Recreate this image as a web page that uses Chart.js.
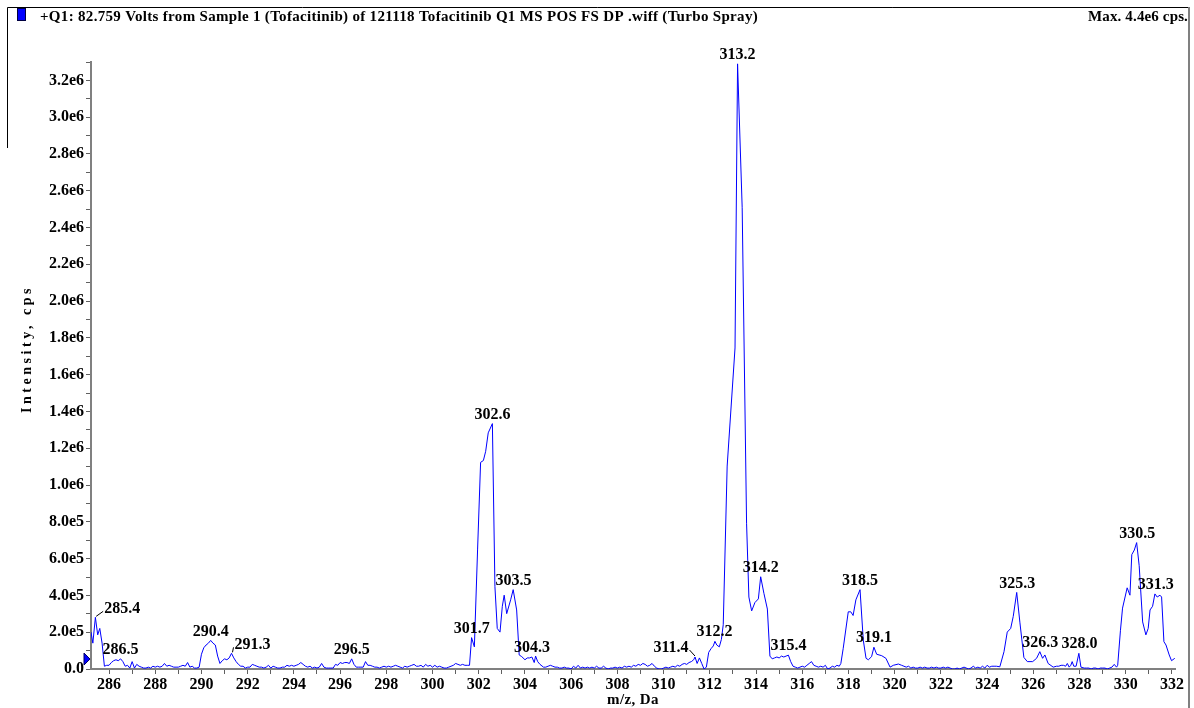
<!DOCTYPE html>
<html>
<head>
<meta charset="utf-8">
<title>Tofacitinib Q1 MS</title>
<script src="https://cdn.jsdelivr.net/npm/chart.js@4.4.1/dist/chart.umd.min.js"></script>
<style>
  html, body { margin: 0; padding: 0; background: #fff; }
  canvas { display: block; }
</style>
</head>
<body>
<canvas id="spectrum" width="1194" height="708"></canvas>
<script>
// intensities below are in units of 1e5 cps
const SCALE = 1e5;

const mzValues = [
  285.22, 285.30, 285.41, 285.51, 285.60, 285.70, 285.80, 285.90,
  286.0, 286.1, 286.2, 286.3, 286.4, 286.5, 286.6, 286.7, 286.8, 286.9,
  287.0, 287.1, 287.2, 287.3, 287.4, 287.5, 287.6, 287.7, 287.8, 287.9,
  288.0, 288.1, 288.2, 288.3, 288.4, 288.5, 288.6, 288.7, 288.8, 288.9,
  289.0, 289.1, 289.2, 289.3, 289.4, 289.5, 289.6, 289.7, 289.8, 289.9,
  290.0, 290.1, 290.2, 290.3, 290.4, 290.5, 290.6, 290.7, 290.8, 290.9,
  291.0, 291.1, 291.2, 291.3, 291.4, 291.5, 291.6, 291.7, 291.8, 291.9,
  292.0, 292.1, 292.2, 292.3, 292.4, 292.5, 292.6, 292.7, 292.8, 292.9,
  293.0, 293.1, 293.2, 293.3, 293.4, 293.5, 293.6, 293.7, 293.8, 293.9,
  294.0, 294.1, 294.2, 294.3, 294.4, 294.5, 294.6, 294.7, 294.8, 294.9,
  295.0, 295.1, 295.2, 295.3, 295.4, 295.5, 295.6, 295.7, 295.8, 295.9,
  296.0, 296.1, 296.2, 296.3, 296.4, 296.5, 296.6, 296.7, 296.8, 296.9,
  297.0, 297.1, 297.2, 297.3, 297.4, 297.5, 297.6, 297.7, 297.8, 297.9,
  298.0, 298.1, 298.2, 298.3, 298.4, 298.5, 298.6, 298.7, 298.8, 298.9,
  299.0, 299.1, 299.2, 299.3, 299.4, 299.5, 299.6, 299.7, 299.8, 299.9,
  300.0, 300.1, 300.2, 300.3, 300.4, 300.5, 300.6, 300.7, 300.8, 300.9,
  301.0, 301.1, 301.2, 301.3, 301.4, 301.5, 301.6, 301.69, 301.81, 301.95,
  302.08, 302.2, 302.3, 302.41, 302.59, 302.7, 302.8, 302.92,
  303.02, 303.1, 303.21, 303.38, 303.49, 303.64, 303.75, 303.86,
  304.0, 304.1, 304.2, 304.3, 304.4, 304.46, 304.55, 304.65, 304.8, 304.9,
  305.0, 305.1, 305.2, 305.3, 305.4, 305.5, 305.6, 305.7, 305.8, 305.9,
  306.0, 306.1, 306.2, 306.3, 306.4, 306.5, 306.6, 306.7, 306.8, 306.9,
  307.0, 307.1, 307.2, 307.3, 307.4, 307.5, 307.6, 307.7, 307.8, 307.9,
  308.0, 308.1, 308.2, 308.3, 308.4, 308.5, 308.6, 308.7, 308.8, 308.9,
  309.0, 309.1, 309.2, 309.3, 309.4, 309.5, 309.6, 309.7, 309.8, 309.9,
  310.0, 310.1, 310.2, 310.3, 310.4, 310.5, 310.6, 310.7, 310.8, 310.9,
  311.0, 311.1, 311.2, 311.3, 311.36, 311.45, 311.55, 311.65, 311.75, 311.85, 311.95,
  312.05, 312.15, 312.22, 312.3, 312.41, 312.5, 312.58, 312.75,
  313.09, 313.2, 313.4, 313.59, 313.69, 313.81, 313.95,
  314.1, 314.2, 314.34, 314.49, 314.6, 314.7, 314.8, 314.9,
  315.0, 315.1, 315.2, 315.3, 315.4, 315.5, 315.6, 315.7, 315.8, 315.9,
  316.0, 316.1, 316.2, 316.3, 316.4, 316.5, 316.6, 316.7, 316.8, 316.9,
  317.0, 317.1, 317.2, 317.3, 317.4, 317.5, 317.6, 317.67, 317.77, 317.99,
  318.1, 318.2, 318.32, 318.5, 318.64, 318.76, 318.86,
  319.0, 319.1, 319.22, 319.44, 319.62, 319.8, 319.94,
  320.16, 320.3, 320.4, 320.5, 320.6, 320.7, 320.8, 320.9,
  321.0, 321.1, 321.2, 321.3, 321.4, 321.5, 321.6, 321.7, 321.8, 321.9,
  322.0, 322.1, 322.2, 322.3, 322.4, 322.5, 322.6, 322.7, 322.8, 322.9,
  323.0, 323.1, 323.2, 323.3, 323.4, 323.5, 323.6, 323.7, 323.8, 323.9,
  324.0, 324.1, 324.2, 324.3, 324.4, 324.55, 324.73, 324.87,
  325.02, 325.13, 325.28, 325.42, 325.59, 325.74, 325.97,
  326.14, 326.28, 326.4, 326.5, 326.64, 326.86,
  327.0, 327.1, 327.2, 327.3, 327.4, 327.47, 327.55, 327.62, 327.68, 327.75, 327.85, 327.97,
  328.06, 328.2, 328.3, 328.4, 328.5, 328.6, 328.7, 328.8, 328.9,
  329.0, 329.1, 329.2, 329.3, 329.4, 329.5, 329.6, 329.65, 329.77, 329.86,
  330.06, 330.18, 330.26, 330.37, 330.47, 330.58, 330.73, 330.87, 330.97,
  331.05, 331.16, 331.26, 331.36, 331.48, 331.55, 331.65, 331.74, 331.88, 331.98,
  332.12
];

const intensityValues = [
  2.0, 1.4, 2.8, 1.85, 2.2, 1.4, 0.15, 0.2,
  0.2, 0.35, 0.45, 0.5, 0.45, 0.55, 0.4, 0.15, 0.2, 0.05,
  0.4, 0.05, 0.25, 0.15, 0.1, 0.05, 0.05, 0.1, 0.05, 0.15,
  0.1, 0.15, 0.1, 0.15, 0.3, 0.15, 0.2, 0.15, 0.1, 0.1,
  0.1, 0.15, 0.2, 0.15, 0.35, 0.1, 0.15, 0.05, 0.05, 0.1,
  0.8, 1.15, 1.3, 1.4, 1.55, 1.4, 1.3, 0.7, 0.3, 0.45,
  0.55, 0.5, 0.6, 0.85, 0.6, 0.4, 0.25, 0.15, 0.15, 0.05,
  0.1, 0.1, 0.25, 0.2, 0.15, 0.1, 0.1, 0.05, 0.1, 0.2,
  0.05, 0.15, 0.1, 0.05, 0.05, 0.1, 0.1, 0.2, 0.15, 0.2,
  0.15, 0.2, 0.25, 0.35, 0.25, 0.15, 0.1, 0.15, 0.05, 0.1,
  0.05, 0.1, 0.3, 0.1, 0.05, 0.05, 0.05, 0.05, 0.25, 0.2,
  0.35, 0.3, 0.35, 0.35, 0.3, 0.55, 0.25, 0.1, 0.1, 0.1,
  0.1, 0.4, 0.2, 0.2, 0.15, 0.1, 0.1, 0.05, 0.1, 0.15,
  0.1, 0.15, 0.1, 0.15, 0.2, 0.15, 0.1, 0.05, 0.15, 0.1,
  0.15, 0.2, 0.25, 0.15, 0.15, 0.2, 0.1, 0.25, 0.15, 0.2,
  0.1, 0.2, 0.1, 0.15, 0.1, 0.05, 0.05, 0.1, 0.15, 0.2,
  0.3, 0.25, 0.2, 0.25, 0.2, 0.2, 0.2, 1.7, 1.2, 6.5,
  11.2, 11.3, 11.8, 12.8, 13.3, 4.46, 2.2, 2.0,
  3.4, 4.0, 3.0, 3.75, 4.3, 3.2, 0.76, 0.67,
  0.5, 0.6, 0.6, 0.65, 0.35, 0.7, 0.4, 0.25, 0.1, 0.1,
  0.15, 0.2, 0.15, 0.1, 0.1, 0.05, 0.05, 0.1, 0.05, 0.05,
  0.0, 0.15, 0.05, 0.2, 0.05, 0.1, 0.05, 0.1, 0.05, 0.1,
  0.05, 0.15, 0.05, 0.05, 0.15, 0.05, 0.0, 0.05, 0.05, 0.1,
  0.05, 0.1, 0.05, 0.15, 0.1, 0.15, 0.1, 0.2, 0.15, 0.25,
  0.2, 0.3, 0.25, 0.15, 0.2, 0.3, 0.15, 0.05, 0.0, 0.0,
  0.05, 0.1, 0.05, 0.1, 0.15, 0.1, 0.2, 0.15, 0.25, 0.3,
  0.25, 0.35, 0.4, 0.5, 0.65, 0.3, 0.6, 0.3, 0.0, 0.1, 0.9,
  1.1, 1.25, 1.5, 1.3, 1.2, 1.6, 2.4, 11.0,
  17.4, 32.8, 25.0, 7.9, 3.9, 3.15, 3.6,
  3.8, 5.0, 4.1, 3.25, 0.7, 0.55, 0.6, 0.65,
  0.6, 0.7, 0.65, 0.7, 0.75, 0.4, 0.15, 0.1, 0.05, 0.1,
  0.15, 0.1, 0.2, 0.3, 0.4, 0.2, 0.15, 0.1, 0.15, 0.1,
  0.2, 0.0, 0.05, 0.15, 0.1, 0.2, 0.15, 0.3, 1.1, 3.1,
  3.1, 2.9, 3.75, 4.3, 1.57, 0.58, 0.5,
  0.67, 1.18, 0.8, 0.72, 0.58, 0.1, 0.2,
  0.27, 0.2, 0.15, 0.1, 0.15, 0.05, 0.1, 0.05,
  0.05, 0.1, 0.05, 0.1, 0.05, 0.05, 0.1, 0.05, 0.1, 0.05,
  0.05, 0.1, 0.05, 0.1, 0.05, 0.0, 0.0, 0.05, 0.0, 0.05,
  0.1, 0.05, 0.0, 0.05, 0.15, 0.05, 0.1, 0.05, 0.15, 0.05,
  0.2, 0.1, 0.15, 0.15, 0.15, 0.12, 0.94, 2.0,
  2.2, 2.85, 4.15, 2.5, 0.63, 0.4, 0.4,
  0.58, 0.94, 0.58, 0.76, 0.3, 0.1,
  0.15, 0.15, 0.2, 0.2, 0.15, 0.3, 0.1, 0.2, 0.4, 0.15, 0.15, 0.85,
  0.1, 0.05, 0.05, 0.05, 0.0, 0.05, 0.05, 0.0, 0.05,
  0.05, 0.05, 0.0, 0.05, 0.1, 0.25, 0.1, 0.2, 2.1, 3.3,
  4.4, 4.0, 6.2, 6.45, 6.85, 5.6, 2.55, 1.85, 2.2,
  3.2, 3.4, 4.07, 3.9, 4.0, 3.9, 1.48, 1.3, 0.76, 0.45,
  0.58
];

// peak annotations as printed on the spectrum
const peakLabels = ['285.4', '286.5', '290.4', '291.3', '296.5', '301.7', '302.6', '303.5',
  '304.3', '311.4', '312.2', '313.2', '314.2', '315.4', '318.5', '319.1', '325.3', '326.3',
  '328.0', '330.5', '331.3'];

const titleText = '+Q1: 82.759 Volts from Sample 1 (Tofacitinib) of 121118 Tofacitinib Q1 MS POS FS DP .wiff (Turbo Spray)';
const maxText = 'Max. 4.4e6 cps.';
const xTitle = 'm/z, Da';
const yTitle = 'Intensity, cps';
const thresholdValue = 0.54;

// labels that sit beside their peak with a small leader line: [dx, dy] of text centre
const leaderOffsets = { '285.4': [27, -8], '291.3': [21, -8], '311.4': [-25, -9] };

const FONT = '"Liberation Serif", "Times New Roman", serif';
const tickFont = { family: FONT, size: 16, weight: 'bold' };

function fitText(ctx, text, x, y, width) {
  ctx.letterSpacing = '0px';
  const w = ctx.measureText(text).width;
  ctx.letterSpacing = ((width - w) / text.length) + 'px';
  ctx.fillText(text, x, y);
  ctx.letterSpacing = '0px';
}

const decorPlugin = {
  id: 'decor',
  beforeDraw(chart) {
    const ctx = chart.ctx;
    ctx.save();
    ctx.fillStyle = '#fff';
    ctx.fillRect(0, 0, chart.width, chart.height);
    ctx.restore();
  },
  afterDraw(chart) {
    const { ctx, chartArea, scales: { y } } = chart;
    ctx.save();
    // frame
    ctx.strokeStyle = '#000';
    ctx.lineWidth = 1;
    ctx.beginPath();
    ctx.moveTo(7.5, 148); ctx.lineTo(7.5, 7.5); ctx.lineTo(1188, 7.5);
    ctx.stroke();
    ctx.strokeStyle = '#808080';
    ctx.lineWidth = 2;
    ctx.beginPath();
    ctx.moveTo(1189, 7); ctx.lineTo(1189, 708);
    ctx.stroke();
    // legend swatch
    ctx.fillStyle = '#0000ff';
    ctx.fillRect(17, 8, 9, 13);
    ctx.strokeStyle = '#000040';
    ctx.lineWidth = 1;
    ctx.strokeRect(17.5, 8.5, 8, 12);
    // header texts
    ctx.fillStyle = '#000';
    ctx.font = 'bold 15px ' + FONT;
    ctx.textBaseline = 'middle';
    ctx.textAlign = 'left';
    fitText(ctx, titleText, 40, 17, 718);
    fitText(ctx, maxText, 1088, 17, 100);
    // axis titles
    ctx.textAlign = 'center';
    ctx.font = 'bold 15px ' + FONT;
    fitText(ctx, xTitle, 633, 700, 52);
    ctx.save();
    ctx.translate(27, 349);
    ctx.rotate(-Math.PI / 2);
    ctx.font = 'bold 14px ' + FONT;
    fitText(ctx, yTitle, 0, 0, 128);
    ctx.restore();
    // threshold marker on the y axis
    const ty = y.getPixelForValue(thresholdValue * SCALE);
    const lx = chartArea.left - 1;
    ctx.fillStyle = '#0000ff';
    ctx.strokeStyle = '#000060';
    ctx.beginPath();
    ctx.moveTo(lx - 6, ty - 6); ctx.lineTo(lx, ty); ctx.lineTo(lx - 6, ty + 6); ctx.closePath();
    ctx.fill(); ctx.stroke();
    ctx.restore();
  }
};

const peakLabelPlugin = {
  id: 'peakLabels',
  afterDatasetsDraw(chart) {
    const { ctx, scales: { x, y } } = chart;
    ctx.save();
    ctx.font = 'bold 16px ' + FONT;
    ctx.fillStyle = '#000';
    ctx.strokeStyle = '#000';
    ctx.lineWidth = 1;
    ctx.textAlign = 'center';
    peakLabels.forEach(label => {
      const m = parseFloat(label);
      let top = 0;
      mzValues.forEach((v, i) => {
        if (Math.abs(v - m) <= 0.08) top = Math.max(top, intensityValues[i]);
      });
      const px = x.getPixelForValue(m);
      const py = y.getPixelForValue(top * SCALE);
      const lead = leaderOffsets[label];
      if (lead) {
        const cx = px + lead[0], cy = py + lead[1];
        const half = ctx.measureText(label).width / 2;
        const ex = lead[0] > 0 ? cx - half - 1 : cx + half + 1;
        ctx.textBaseline = 'middle';
        ctx.fillText(label, cx, cy);
        ctx.beginPath();
        ctx.moveTo(px + (lead[0] > 0 ? 1 : -1), py - 1);
        ctx.lineTo(ex, cy + 2);
        ctx.stroke();
      } else {
        ctx.textBaseline = 'bottom';
        ctx.fillText(label, px, py - 1);
      }
    });
    ctx.restore();
  }
};

const points = mzValues.map((m, i) => ({ x: m, y: intensityValues[i] * SCALE }));

new Chart(document.getElementById('spectrum'), {
  type: 'line',
  data: {
    datasets: [{
      data: points,
      borderColor: '#0000ff',
      borderWidth: 1,
      pointRadius: 0,
      tension: 0,
      fill: false
    }]
  },
  options: {
    responsive: false,
    animation: false,
    parsing: false,
    layout: { padding: { top: 62, right: 19, left: 0, bottom: 0 } },
    plugins: { legend: { display: false }, tooltip: { enabled: false } },
    scales: {
      x: {
        type: 'linear',
        min: 285.22,
        max: 332.13,
        afterFit(scale) { scale.height = 39; },
        border: { color: '#808080', width: 2 },
        grid: { drawOnChartArea: false, drawTicks: true, tickLength: 5, color: '#606060' },
        ticks: {
          stepSize: 1,
          includeBounds: false,
          autoSkip: false,
          maxRotation: 0,
          padding: 1,
          color: '#000',
          font: tickFont,
          callback: v => (Math.round(v) % 2 === 0 ? String(Math.round(v)) : '')
        }
      },
      y: {
        type: 'linear',
        min: 0,
        max: 3.29e6,
        afterFit(scale) { scale.width = 91; },
        border: { color: '#808080', width: 2 },
        grid: { drawOnChartArea: false, drawTicks: true, tickLength: 5, color: '#606060' },
        ticks: {
          stepSize: 1e5,
          includeBounds: false,
          autoSkip: false,
          padding: 2,
          color: '#000',
          font: tickFont,
          callback: v => {
            const n = Math.round(v / 1e5);
            if (n % 2) return '';
            if (n === 0) return '0.0';
            return n < 10 ? n.toFixed(1) + 'e5' : (n / 10).toFixed(1) + 'e6';
          }
        }
      }
    }
  },
  plugins: [decorPlugin, peakLabelPlugin]
});
</script>
</body>
</html>
